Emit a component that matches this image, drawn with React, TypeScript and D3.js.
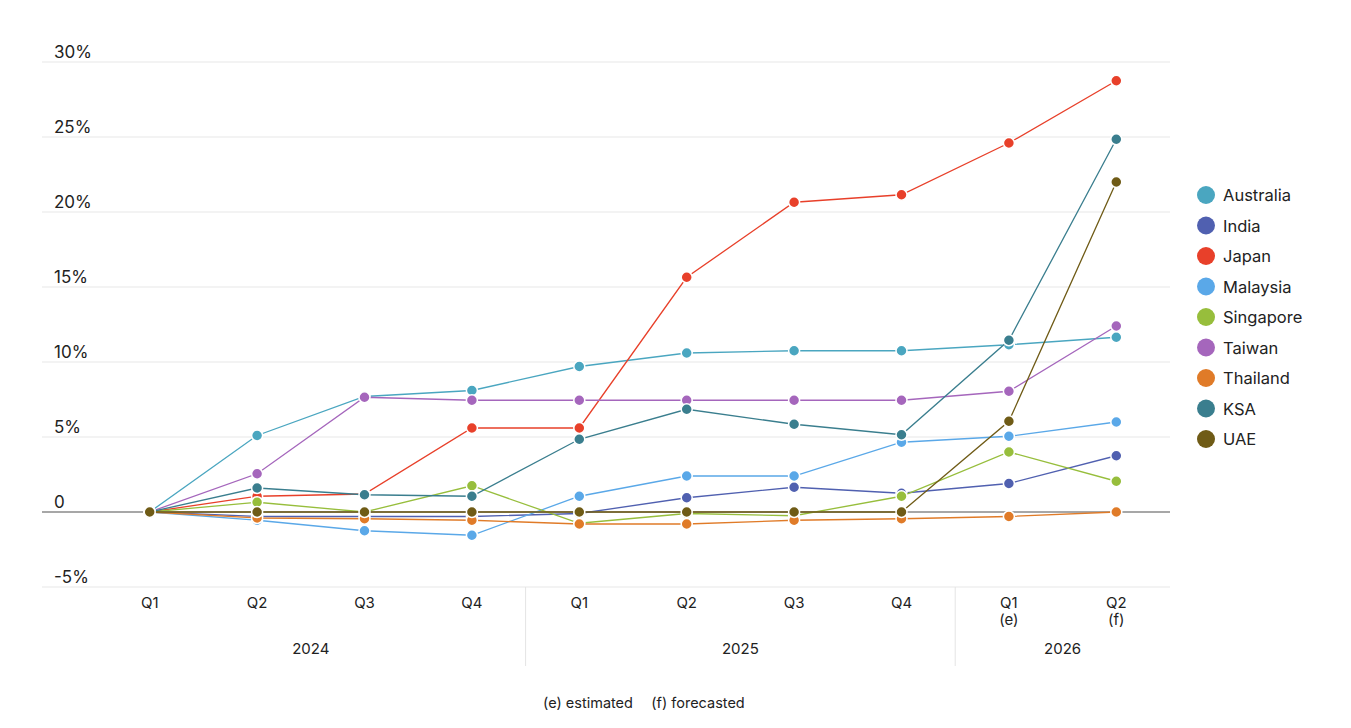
import React from 'react'
import * as d3 from 'd3'

// quarters along the x axis
const quarters = ['Q1', 'Q2', 'Q3', 'Q4', 'Q1', 'Q2', 'Q3', 'Q4', 'Q1', 'Q2']
const quarterNotes = ['', '', '', '', '', '', '', '', '(e)', '(f)']
const years = ['2024', '2025', '2026']
const yearSpans = [[0, 3], [4, 7], [8, 9]]
const yTicks = [-5, 0, 5, 10, 15, 20, 25, 30]

const countries = ['Australia', 'India', 'Japan', 'Malaysia', 'Singapore', 'Taiwan', 'Thailand', 'KSA', 'UAE']
const colors = ['#4aa6c0', '#5060b0', '#e8402a', '#5aa8e8', '#97be3c', '#a566bc', '#e07b28', '#3a7e8e', '#6f5b16']

// % change vs Q1 2024
const australia = [0, 5.1, 7.7, 8.1, 9.7, 10.6, 10.75, 10.75, 11.15, 11.65]
const india = [0, -0.3, -0.3, -0.3, -0.1, 0.95, 1.65, 1.25, 1.9, 3.75]
const japan = [0, 1.05, 1.2, 5.6, 5.6, 15.65, 20.65, 21.15, 24.6, 28.75]
const malaysia = [0, -0.55, -1.25, -1.55, 1.05, 2.4, 2.4, 4.65, 5.05, 6.0]
const singapore = [0, 0.65, 0, 1.75, -0.75, -0.1, -0.25, 1.05, 4.0, 2.05]
const taiwan = [0, 2.55, 7.65, 7.45, 7.45, 7.45, 7.45, 7.45, 8.05, 12.4]
const thailand = [0, -0.4, -0.45, -0.55, -0.8, -0.8, -0.55, -0.45, -0.3, 0]
const ksa = [0, 1.6, 1.15, 1.05, 4.85, 6.85, 5.85, 5.15, 11.45, 24.85]
const uae = [0, 0, 0, 0, 0, 0, 0, 0, 6.05, 22.0]
const series = [australia, india, japan, malaysia, singapore, taiwan, thailand, ksa, uae]

const font = 'Inter, "Noto Sans", sans-serif'

export default function App() {
  const x = d3.scalePoint<number>().domain(d3.range(quarters.length)).range([96, 1170]).padding(0.5)
  const step = x.step()
  const y = d3.scaleLinear().domain([-5, 30]).range([587, 62])
  const line = d3.line<number>().x((_, i) => x(i)!).y(d => y(d))
  const left = 42
  const right = 1170
  const legendY = d3.scalePoint<string>().domain(countries).range([195, 439])

  return (
    <svg width={1351} height={728} style={{ position: 'absolute', left: 0, top: 0 }} fontFamily={font}>
      {yTicks.map(t => (
        <g key={t}>
          <line x1={left} x2={right} y1={y(t)} y2={y(t)} stroke={t === 0 ? '#8a8a8a' : '#e8e8e8'} strokeWidth={t === 0 ? 1.5 : 1.2} />
          <text x={54} y={y(t) - 4} fontSize={17} fill="#222">{t === 0 ? '0' : `${t}%`}</text>
        </g>
      ))}
      {/* separators between years */}
      {[4, 8].map(i => (
        <line key={i} x1={x(i)! - step / 2} x2={x(i)! - step / 2} y1={587} y2={666} stroke="#e4e4e4" strokeWidth={1} />
      ))}
      {quarters.map((q, i) => (
        <g key={i} fontSize={15} fill="#222" textAnchor="middle">
          <text x={x(i)} y={608}>{q}</text>
          {quarterNotes[i] && <text x={x(i)} y={625}>{quarterNotes[i]}</text>}
        </g>
      ))}
      {years.map((yr, k) => (
        <text key={yr} x={(x(yearSpans[k][0])! + x(yearSpans[k][1])!) / 2} y={654} fontSize={15} fill="#222" textAnchor="middle">{yr}</text>
      ))}
      {series.map((s, k) => (
        <g key={countries[k]}>
          <path d={line(s)!} fill="none" stroke={colors[k]} strokeWidth={1.3} />
          {s.map((v, i) => (
            <circle key={i} cx={x(i)} cy={y(v)} r={5.5} fill={colors[k]} stroke="#fff" strokeWidth={1.5} />
          ))}
        </g>
      ))}
      {countries.map((c, k) => (
        <g key={c}>
          <circle cx={1206} cy={legendY(c)} r={9} fill={colors[k]} />
          <text x={1223} y={legendY(c)! + 6} fontSize={16.5} fill="#222">{c}</text>
        </g>
      ))}
      <text x={588} y={708} fontSize={14.5} fill="#222" textAnchor="middle">(e) estimated</text>
      <text x={698} y={708} fontSize={14.5} fill="#222" textAnchor="middle">(f) forecasted</text>
    </svg>
  )
}
